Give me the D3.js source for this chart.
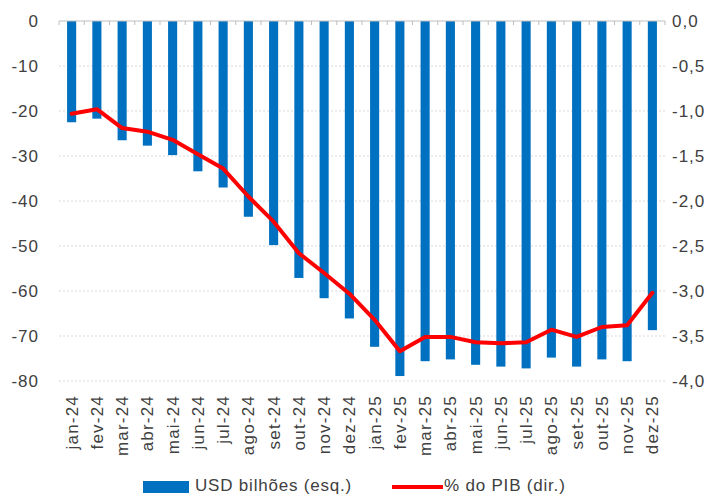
<!DOCTYPE html>
<html>
<head>
<meta charset="utf-8">
<script src="https://cdn.jsdelivr.net/npm/d3@7"></script>
<style>
  body { margin: 0; background: #fff; }
  text { font-family: "Liberation Sans", Arial, sans-serif; fill: #404040; }
</style>
</head>
<body>
<svg id="chart"></svg>
<script>
// data
const months = ["jan-24","fev-24","mar-24","abr-24","mai-24","jun-24","jul-24","ago-24","set-24","out-24","nov-24","dez-24",
                "jan-25","fev-25","mar-25","abr-25","mai-25","jun-25","jul-25","ago-25","set-25","out-25","nov-25","dez-25"];
const usd = [-22.5,-21.7,-26.5,-27.7,-29.8,-33.4,-37.0,-43.5,-49.8,-57.1,-61.6,-66.1,
             -72.4,-78.9,-75.6,-75.2,-76.4,-76.8,-77.2,-74.8,-76.8,-75.2,-75.6,-68.7];
const pib = [-1.03,-0.98,-1.19,-1.23,-1.32,-1.48,-1.64,-1.95,-2.23,-2.58,-2.80,-3.03,
             -3.32,-3.67,-3.51,-3.51,-3.57,-3.58,-3.57,-3.43,-3.51,-3.40,-3.38,-3.02];
const leftTicks = [0,-10,-20,-30,-40,-50,-60,-70,-80];
const rightTicks = [0,-0.5,-1,-1.5,-2,-2.5,-3,-3.5,-4];

const width = 708, height = 496;
const plot = { left: 59, right: 665, top: 21, bottom: 381 };

const svg = d3.select('#chart').attr('width', width).attr('height', height);

const x = d3.scaleBand().domain(months).range([plot.left, plot.right]).paddingInner(0.64).paddingOuter(0.32);
const yL = d3.scaleLinear().domain([-80, 0]).range([plot.bottom, plot.top]);
const yR = d3.scaleLinear().domain([-4, 0]).range([plot.bottom, plot.top]);

// gridlines
svg.append('g').selectAll('line')
    .data(leftTicks.filter(d => d !== 0))
    .enter().append('line')
    .attr('x1', plot.left).attr('x2', plot.right)
    .attr('y1', d => yL(d)).attr('y2', d => yL(d))
    .attr('stroke', '#d9d9d9').attr('stroke-width', 1)
    .attr('stroke-dasharray', '2,2');

// left axis labels
svg.append('g').selectAll('text')
    .data(leftTicks)
    .enter().append('text')
    .attr('x', 39).attr('y', d => yL(d) + 6)
    .attr('text-anchor', 'end')
    .style('font-size', '17px')
    .style('letter-spacing', '1px')
    .text(d => d);

// right axis labels
const fmt = d => d3.format('.1f')(d).replace('.', ',').replace('−', '-');
svg.append('g').selectAll('text')
    .data(rightTicks)
    .enter().append('text')
    .attr('x', 672).attr('y', d => yR(d) + 6)
    .attr('text-anchor', 'start')
    .style('font-size', '17px')
    .style('letter-spacing', '1px')
    .text(d => fmt(d));

// bars
svg.append('g').selectAll('rect')
    .data(months)
    .enter().append('rect')
    .attr('x', (d, i) => x(d))
    .attr('y', yL(0))
    .attr('width', x.bandwidth())
    .attr('height', (d, i) => yL(usd[i]) - yL(0))
    .attr('fill', '#0070C0');

// zero axis line with ticks at band boundaries
svg.append('line')
    .attr('x1', plot.left).attr('x2', plot.right)
    .attr('y1', yL(0)).attr('y2', yL(0))
    .attr('stroke', '#bfbfbf');
svg.append('g').selectAll('line')
    .data(d3.range(months.length + 1))
    .enter().append('line')
    .attr('x1', i => plot.left + i * (plot.right - plot.left) / months.length)
    .attr('x2', i => plot.left + i * (plot.right - plot.left) / months.length)
    .attr('y1', yL(0)).attr('y2', yL(0) + 4)
    .attr('stroke', '#bfbfbf');

// line
const line = d3.line()
    .x((d, i) => x(months[i]) + x.bandwidth() / 2)
    .y(d => yR(d));
svg.append('path')
    .datum(pib)
    .attr('d', line)
    .attr('fill', 'none')
    .attr('stroke', '#FF0000')
    .attr('stroke-width', 4)
    .attr('stroke-linejoin', 'round')
    .attr('stroke-linecap', 'round');

// x labels, rotated
svg.append('g').selectAll('text')
    .data(months)
    .enter().append('text')
    .attr('transform', d => 'translate(' + (x(d) + x.bandwidth() / 2 + 6) + ',' + 395 + ') rotate(-90)')
    .attr('text-anchor', 'end')
    .style('font-size', '17px')
    .style('letter-spacing', '1.2px')
    .text(d => d);

// legend
svg.append('rect')
    .attr('x', 143).attr('y', 481).attr('width', 46).attr('height', 12)
    .attr('fill', '#0070C0');
svg.append('text')
    .attr('x', 195).attr('y', 491)
    .style('font-size', '17px')
    .style('letter-spacing', '0.8px')
    .text('USD bilhões (esq.)');
svg.append('line')
    .attr('x1', 392).attr('x2', 443).attr('y1', 487).attr('y2', 487)
    .attr('stroke', '#FF0000').attr('stroke-width', 4);
svg.append('text')
    .attr('x', 444).attr('y', 491)
    .style('font-size', '17px')
    .style('letter-spacing', '0.8px')
    .text('% do PIB (dir.)');
</script>
</body>
</html>
